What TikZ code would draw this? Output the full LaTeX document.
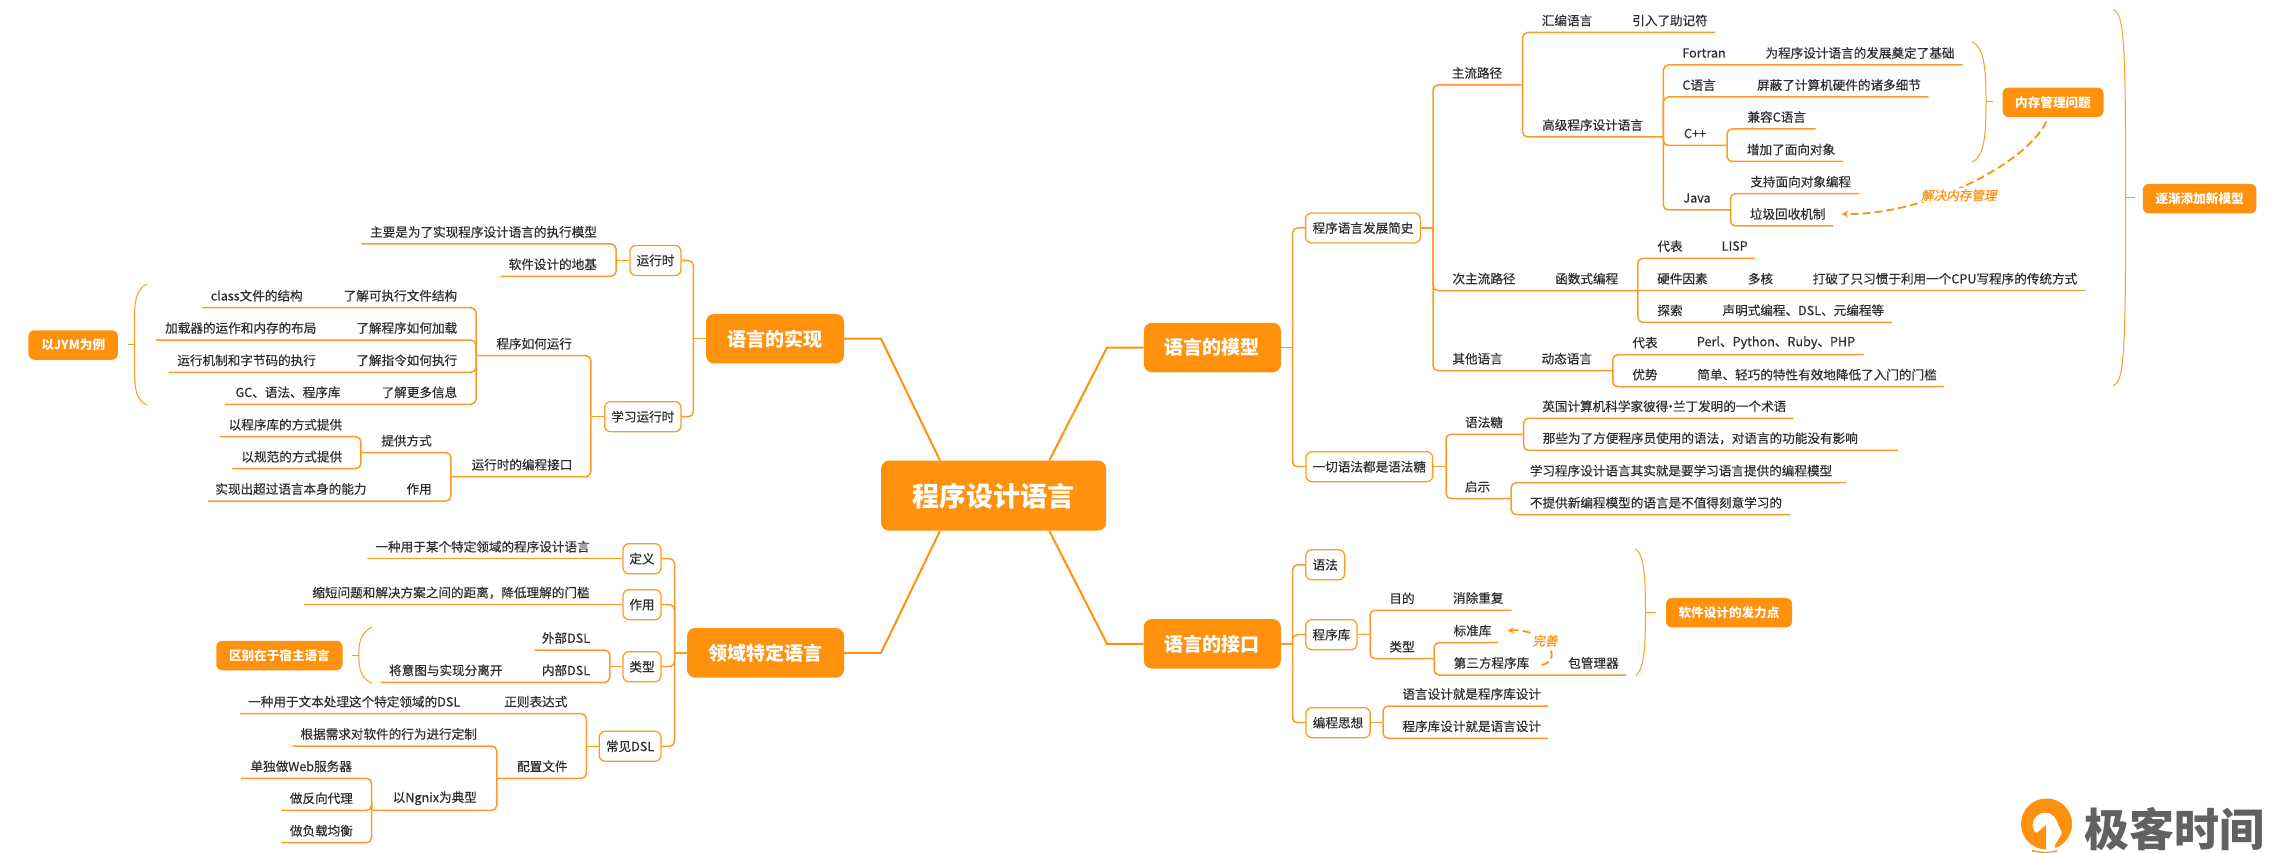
\documentclass[tikz,border=0pt]{standalone}
\usepackage{fontspec}
\setmainfont{Noto Sans CJK SC}
\newfontfamily\slantcjk[FakeSlant=0.2,FakeBold=1]{Noto Sans CJK SC}
\newfontfamily\medcjk[FakeBold=0.4]{Noto Sans CJK SC}
\definecolor{mapor}{HTML}{FF910D}
\definecolor{mapline}{HTML}{FF9A24}
\definecolor{mapink}{HTML}{2E2E2E}
\tikzset{
  word/.style={inner sep=0pt,text=mapink,font=\fontsize{12.6}{15}\selectfont\medcjk},
  link/.style={draw=mapline,line width=1.5pt,rounded corners=5pt},
  spoke/.style={draw=mapor,line width=2pt},
  root/.style={fill=mapor,rounded corners=8pt,text=white,font=\fontsize{27}{32}\selectfont\bfseries},
  topic/.style={fill=mapor,rounded corners=8pt,text=white,font=\fontsize{19}{23}\selectfont\bfseries},
  note/.style={fill=mapor,rounded corners=6pt,text=white,font=\fontsize{12.6}{15}\selectfont\bfseries},
  sub/.style={draw=mapline,fill=white,line width=1.3pt,rounded corners=6pt,text=mapink,font=\fontsize{12.6}{15}\selectfont\medcjk},
  brace/.style={draw=mapline,line width=1pt},
  fixlink/.style={draw=mapor,line width=1.8pt,dash pattern=on 8pt off 4pt,->,>=stealth},
  fixword/.style={inner sep=1pt,fill=white,text=mapor,font=\fontsize{12.6}{15}\selectfont\slantcjk},
}
\begin{document}
\begin{tikzpicture}[x=1pt,y=-1pt]
  \useasboundingbox (0,0) rectangle (2284,853);
  % filled boxes
  \node[root,minimum width=225pt,minimum height=70pt] (prog) at (993.6,495.7) {程序设计语言};
  \foreach \nm/\x/\y/\w/\txt in {model/1212.4/347.5/137/语言的模型,port/1212.3/643.8/137/语言的接口,
    impl/775/338.7/138/语言的实现,dsl/765.5/652.8/157/领域特定语言}
    \node[topic,minimum width=\w pt,minimum height=49.5pt] (\nm) at (\x,\y) {\txt};
  \foreach \nm/\x/\y/\w/\txt in {mem/2053/102.3/101/内存管理问题,grow/2199.6/198.7/113.6/逐渐添加新模型,
    soft/1729/612.7/126/软件设计的发力点,jym/73.2/345/89.5/以JYM为例,host/279.4/655.5/126.2/区别在于宿主语言}
    \node[note,minimum width=\w pt,minimum height=29.5pt] (\nm) at (\x,\y) {\txt};
  % outlined boxes
  \foreach \nm/\x/\y/\w/\txt in {hist/1363/228/114.8/程序语言发展简史,sugar/1369.3/466.7/126.7/一切语法都是语法糖,
    syn/1325.2/564.8/38.8/语法,lib/1331.4/634.7/51.2/程序库,idea/1338/722.7/64.2/编程思想,
    run/655.5/260.5/51/运行时,learn/642.8/416.7/76.3/学习运行时,def/642/558.7/38/定义,
    use/642/604.7/38/作用,kind/642/666.7/38/类型,com/630.1/746.3/61.8/常见DSL}
    \node[sub,minimum width=\w pt,minimum height=30pt] (\nm) at (\x,\y) {\txt};
  % underlined words: name/end x/end y/text x/text
  \foreach \nm/\ex/\ey/\x/\txt in {
    main/1522.6/85/1477/主流路径,asm/1715/32.5/1567/汇编语言,high/1663.4/137/1592.6/高级程序设计语言,
    fort/1962.6/65/1704/Fortran,clang/1928.7/97/1699/C语言,cpp/1727/145.5/1695/C++,
    compat/1815.5/129/1776.7/兼容C语言,oop/1843.4/161.5/1791/增加了面向对象,
    java/1730.5/210/1697/Java,joop/1859.4/193.7/1800.7/支持面向对象编程,garb/1833/226/1787.7/垃圾回收机制,
    minor/1637.8/290.7/1484/次主流路径,lisp/1755/258.3/1670/代表,hard/2086/290.7/1682.4/硬件因素,
    seek/1891.8/322.3/1670/探索,other/1612.8/370.7/1477.6/其他语言,
    rep/1863.8/354.7/1645/代表,adv/1944/386.7/1645/优势,
    sweet/1523.5/434.3/1484/语法糖,coin/1793.4/418.3/1664.3/英国计算机科学家彼得\kern-4pt·\kern-4pt兰丁发明的一个术语,
    ease/1898/450.3/1700.3/那些为了方便程序员使用的语法，对语言的功能没有影响,
    hint/1511.2/498.7/1477.6/启示,study/1846/482.7/1681/学习程序设计语言其实就是要学习语言提供的编程模型,
    nonew/1789.8/514.7/1656/不提供新编程模型的语言是不值得刻意学习的,
    aim/1511.6/610.3/1402/目的,sort/1434/658.7/1402/类型,std/1498/642.7/1472.5/标准库,
    third/1626/675/1491.5/第三方程序库,lang/1547.8/706/1471.7/语言设计就是程序库设计,
    libd/1547.8/738.3/1471.7/程序库设计就是语言设计,
    exec/361.3/244/483.5/主要是为了实现程序设计语言的执行模型,base/500.5/276.3/552.8/软件设计的地基,
    how/476/355.7/534.2/程序如何运行,cls/202/307.7/400.4/了解可执行文件结构,load/156/340/406.8/了解程序如何加载,
    ins/168.5/372.3/406.8/了解指令如何执行,more/225/404.3/419.4/了解更多信息,
    api/450.9/476.7/522/运行时的编程接口,give/360.9/452.7/406.6/提供方式,bylib/219.5/436.7/285.4/以程序库的方式提供,
    byspec/231.9/468.7/291.8/以规范的方式提供,role/208/501/419.2/作用,
    defw/367.3/558.7/482.6/一种用于某个特定领域的程序设计语言,usew/304/604.7/451/缩短问题和解决方案之间的距离，降低理解的门槛,
    ext/534.4/650/566/外部DSL,intr/380.6/682.3/566/内部DSL,
    regex/240/713.7/535.8/正则表达式,conf/496.8/778.3/542.3/配置文件,cust/292.5/746/388.7/根据需求对软件的行为进行定制,
    ngx/371.5/810.3/434.8/以Ngnix为典型,web/241/778.3/301.2/单独做Web服务器,proxy/281.5/810.3/321.4/做反向代理,
    bal/281.5/842.7/321.4/做负载均衡}{
    \coordinate (\nm e) at (\ex,\ey);
    \node[word] (\nm) at (\x,\ey-12) {\txt};
  }
  % second words on a line
  \foreach \nm/\x/\y/\txt in {
    mnem/1670/20.5/引入了助记符,ftxt/1860/53/为程序设计语言的发展奠定了基础,ctxt/1839/85/屏蔽了计算机硬件的诸多细节,
    func/1586.7/278.7/函数式编程,lsp/1734.7/246/LISP,core/1760.5/278.7/多核,hardt/1945/278.7/打破了只习惯于利用一个CPU写程序的传统方式,
    seekt/1803.3/310.3/声明式编程、DSL、元编程等,dyn/1566.8/358.7/动态语言,plist/1776/342.7/Perl、Python、Ruby、PHP,
    advt/1817/374.7/简单、轻巧的特性有效地降低了入门的门槛,
    purge/1478.3/598/消除重复,pkg/1593.5/663/包管理器,
    clst/256.7/295.7/class文件的结构,loadt/240.8/328/加载器的运作和内存的布局,inst/246.6/360.3/运行机制和字节码的执行,
    moret/288/392.3/GC、语法、程序库,rolet/290.9/489/实现出超过语言本身的能力,
    intrt/445.8/670.3/将意图与实现分离开,regext/354.2/701.7/一种用于文本处理这个特定领域的DSL}
    \node[word] (\nm) at (\x,\y) {\txt};
  % hubs beside the boxes
  \foreach \nm/\hx/\y in {hist/1433/228,sugar/1446/466.7,lib/1370/634.7,idea/1383/722.7,run/616/260.5,
    learn/590.9/416.7,kind/609.8/666.7,com/586.3/746.3,model/1292.5/347.5,port/1292.5/643.8,impl/693.3/338.7,dsl/674.5/652.8}{
    \coordinate (\nm h) at (\hx,\y);
    \draw[link] (\nm) -- (\nm h);
  }
  % connectors from a hub or a line end
  \foreach \a/\b in {histh/maine,histh/minore,histh/othere,maine/asme,maine/highe,highe/forte,highe/clange,highe/cppe,highe/javae,
    cppe/compate,cppe/oope,javae/joope,javae/garbe,minore/lispe,minore/seeke,othere/repe,othere/adve,
    sugarh/sweete,sugarh/hinte,sweete/coine,sweete/easee,hinte/studye,hinte/nonewe,
    libh/aime,libh/sorte,sorte/stde,sorte/thirde,ideah/lange,ideah/libde,
    runh/exece,runh/basee,learnh/howe,learnh/apie,howe/clse,howe/loade,howe/inse,howe/moree,
    apie/givee,apie/rolee,givee/bylibe,givee/byspece,kindh/exte,kindh/intre,
    comh/regexe,comh/confe,confe/custe,confe/ngxe,ngxe/webe,ngxe/proxye,ngxe/bale}
    \draw[link] (\a) |- (\b);
  \draw[link] (minore) -- (harde);
  \draw[link] (def) -- (defwe);
  \draw[link] (use) -- (usewe);
  % boxes on the trunks
  \foreach \a/\b/\s in {modelh/hist/west,modelh/sugar/west,porth/syn/west,porth/lib/west,porth/idea/west,
    implh/run/east,implh/learn/east,dslh/def/east,dslh/use/east,dslh/kind/east,dslh/com/east}
    \draw[link] (\a) |- (\b.\s);
  % spokes from the centre
  \coordinate (kneem) at (1107,347.5);
  \coordinate (kneep) at (1107,643.8);
  \coordinate (kneei) at (881,338.7);
  \coordinate (kneed) at (881,652.8);
  \draw[spoke] ([xshift=55.7pt]prog.north) -- (kneem) -- (model.west);
  \draw[spoke] ([xshift=55.7pt]prog.south) -- (kneep) -- (port.west);
  \draw[spoke] ([xshift=-53.6pt]prog.north) -- (kneei) -- (impl.east);
  \draw[spoke] ([xshift=-53.6pt]prog.south) -- (kneed) -- (dsl.east);
  % summary brackets: open x/apex x/tick x/top/bottom
  \foreach \xa/\xb/\xc/\ya/\yb in {1972/1986/1992.7/41.7/162.3,2113.4/2125.7/2135/9.3/386,
    1635.7/1645.5/1655.8/548.7/675.7,147/134.5/127.6/284.3/405,372/359/352.2/627.3/683.3}{
    \pgfmathsetmacro\ym{(\ya+\yb)/2}
    \draw[brace] (\xa,\ya) .. controls (\xb-2,\ya+6) and (\xb,\ya+25) .. (\xb,\ym)
      .. controls (\xb,\yb-25) and (\xb-2,\yb-6) .. (\xa,\yb);
    \draw[brace] (\xb,\ym) -- (\xc,\ym);
  }
  % dashed remarks
  \draw[fixlink] ([xshift=-6.6pt,yshift=-4.4pt]mem.south) .. controls (2025,165) and (1925,215) .. ([xshift=16pt]garb.east);
  \node[fixword] (fixmem) at (1958.8,195.3) {解决内存管理};
  \draw[fixlink] ([xshift=12pt,yshift=-2pt]third.east) .. controls (1565,660) and (1545,628) .. ([xshift=16pt]std.east);
  \node[fixword] (fixlib) at (1545,640.7) {完善};
  % logo
  \fill[mapor,even odd rule] (2046.5,824) circle [radius=25.5] (2045,825) circle [radius=12.5];
  \fill[white] (2046,820) -- (2046,851) -- (2055,851) -- (2055,845) -- (2062,833) -- (2056,820) -- cycle;
  \fill[mapor] (2046,825) -- (2046,849.5) -- (2036,846) -- (2032,831) -- (2037,832.7) -- cycle;
  \fill[mapor] (2032,850) .. controls (2042,852.5) and (2050,852.5) .. (2057,850) -- (2057,851.5) .. controls (2050,853.5) and (2042,853.5) .. (2032,851.5) -- cycle;
  \node[inner sep=0pt,text=black!62,font=\fontsize{45}{50}\selectfont\bfseries] (geek) at (2174,829) {极客时间};
\end{tikzpicture}
\end{document}
